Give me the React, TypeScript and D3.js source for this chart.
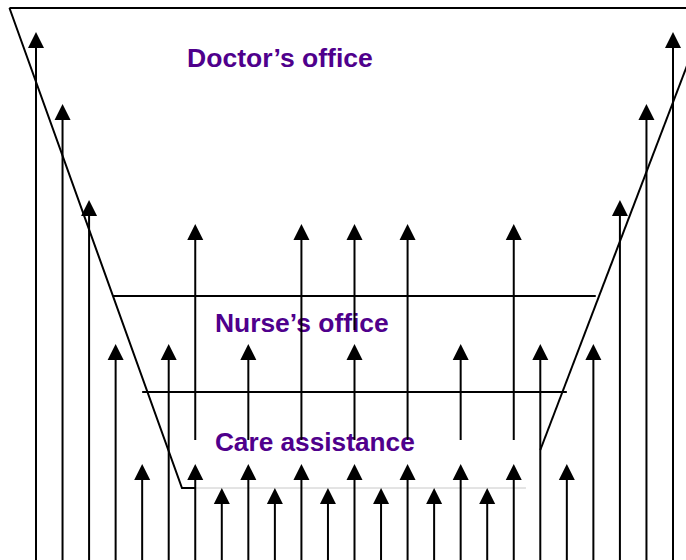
import React, { useEffect, useRef } from "react";
import * as d3 from "d3";

// columns are arrow slots (0..24), heights are measured up from the bottom edge
const columns = d3.range(25);

// [column, from height, to height (arrow tip)]
const arrows: [number, number, number][] = [
  [0, 0, 528], [1, 0, 456], [2, 0, 360], [3, 0, 216], [4, 0, 96], [5, 0, 216],
  [6, 0, 96], [6, 120, 336],
  [7, 0, 72],
  [8, 0, 96], [8, 120, 216],
  [9, 0, 72],
  [10, 0, 96], [10, 120, 336],
  [11, 0, 72],
  [12, 0, 96], [12, 120, 216], [12, 230, 336],
  [13, 0, 72],
  [14, 0, 96], [14, 120, 336],
  [15, 0, 72],
  [16, 0, 96], [16, 120, 216],
  [17, 0, 72],
  [18, 0, 96], [18, 120, 336],
  [19, 0, 216], [20, 0, 96], [21, 0, 216], [22, 0, 360], [23, 0, 456], [24, 0, 528],
];

// funnel outline
const leftSide: [number, number][] = [[-1, 552], [5.5, 72], [6, 72]];
const bottomFaint: [number, number][] = [[6, 72], [18.46, 72]];
const rightSide: [number, number][] = [[19, 110], [25.5, 562]];
const topEdge: [number, number][] = [[-1, 552], [27, 552]];
const levelLines: [number, number, number][] = [
  [2.9, 21.09, 264], // nurse level
  [4.0, 20.0, 168], // care level
];

// span = label width in columns
const labels = [
  { text: "Doctor\u2019s office", col: 5.69, h: 493, span: 7.0 },
  { text: "Nurse\u2019s office", col: 6.74, h: 228, span: 6.55 },
  { text: "Care assistance", col: 6.74, h: 109, span: 7.53 },
];

const W = 686, H = 560;

export default function App() {
  const svgRef = useRef<SVGSVGElement>(null);

  useEffect(() => {
    const svg = d3.select(svgRef.current);
    svg.selectAll("*").remove();

    const x = d3.scaleLinear().domain([0, columns.length - 1]).range([36, 673]);
    const y = d3.scaleLinear().domain([0, 552]).range([H, 8]);
    const line = d3.line<[number, number]>().x(d => x(d[0])).y(d => y(d[1]));

    svg.append("rect").attr("width", W).attr("height", H).attr("fill", "#fff");

    // labels go under the lines
    svg.selectAll("text.lbl")
      .data(labels)
      .enter()
      .append("text")
      .attr("class", "lbl")
      .attr("x", d => x(d.col))
      .attr("y", d => y(d.h))
      .attr("textLength", d => x(d.span) - x(0))
      .attr("lengthAdjust", "spacingAndGlyphs")
      .attr("fill", "#4F008C")
      .style("font-family", "'Liberation Sans', Arial, sans-serif")
      .style("font-weight", "bold")
      .style("font-size", "26px")
      .text(d => d.text);

    svg.append("path").attr("d", line(bottomFaint)).attr("fill", "none")
      .attr("stroke", "#c8c8c8").attr("stroke-width", 1);

    [leftSide, rightSide, topEdge].forEach(pts => {
      svg.append("path").attr("d", line(pts)).attr("fill", "none")
        .attr("stroke", "#000").attr("stroke-width", 2);
    });

    svg.selectAll("line.level")
      .data(levelLines)
      .enter()
      .append("line")
      .attr("class", "level")
      .attr("x1", d => x(d[0]))
      .attr("x2", d => x(d[1]))
      .attr("y1", d => y(d[2]))
      .attr("y2", d => y(d[2]))
      .attr("stroke", "#000")
      .attr("stroke-width", 2);

    const head = 16, half = 8;
    const g = svg.selectAll("g.arrow")
      .data(arrows)
      .enter()
      .append("g")
      .attr("class", "arrow");

    g.append("line")
      .attr("x1", d => x(d[0]))
      .attr("x2", d => x(d[0]))
      .attr("y1", d => y(d[1]) + (d[1] === 0 ? 2 : 0))
      .attr("y2", d => y(d[2]) + head - 1)
      .attr("stroke", "#000")
      .attr("stroke-width", 2);

    g.append("path")
      .attr("d", d => {
        const cx = x(d[0]), ty = y(d[2]);
        return `M${cx},${ty}L${cx + half},${ty + head}L${cx - half},${ty + head}Z`;
      })
      .attr("fill", "#000");
  }, []);

  return (
    <div style={{ position: "absolute", left: 0, top: 0 }}>
      <svg ref={svgRef} width={W} height={H} style={{ display: "block" }} />
    </div>
  );
}
